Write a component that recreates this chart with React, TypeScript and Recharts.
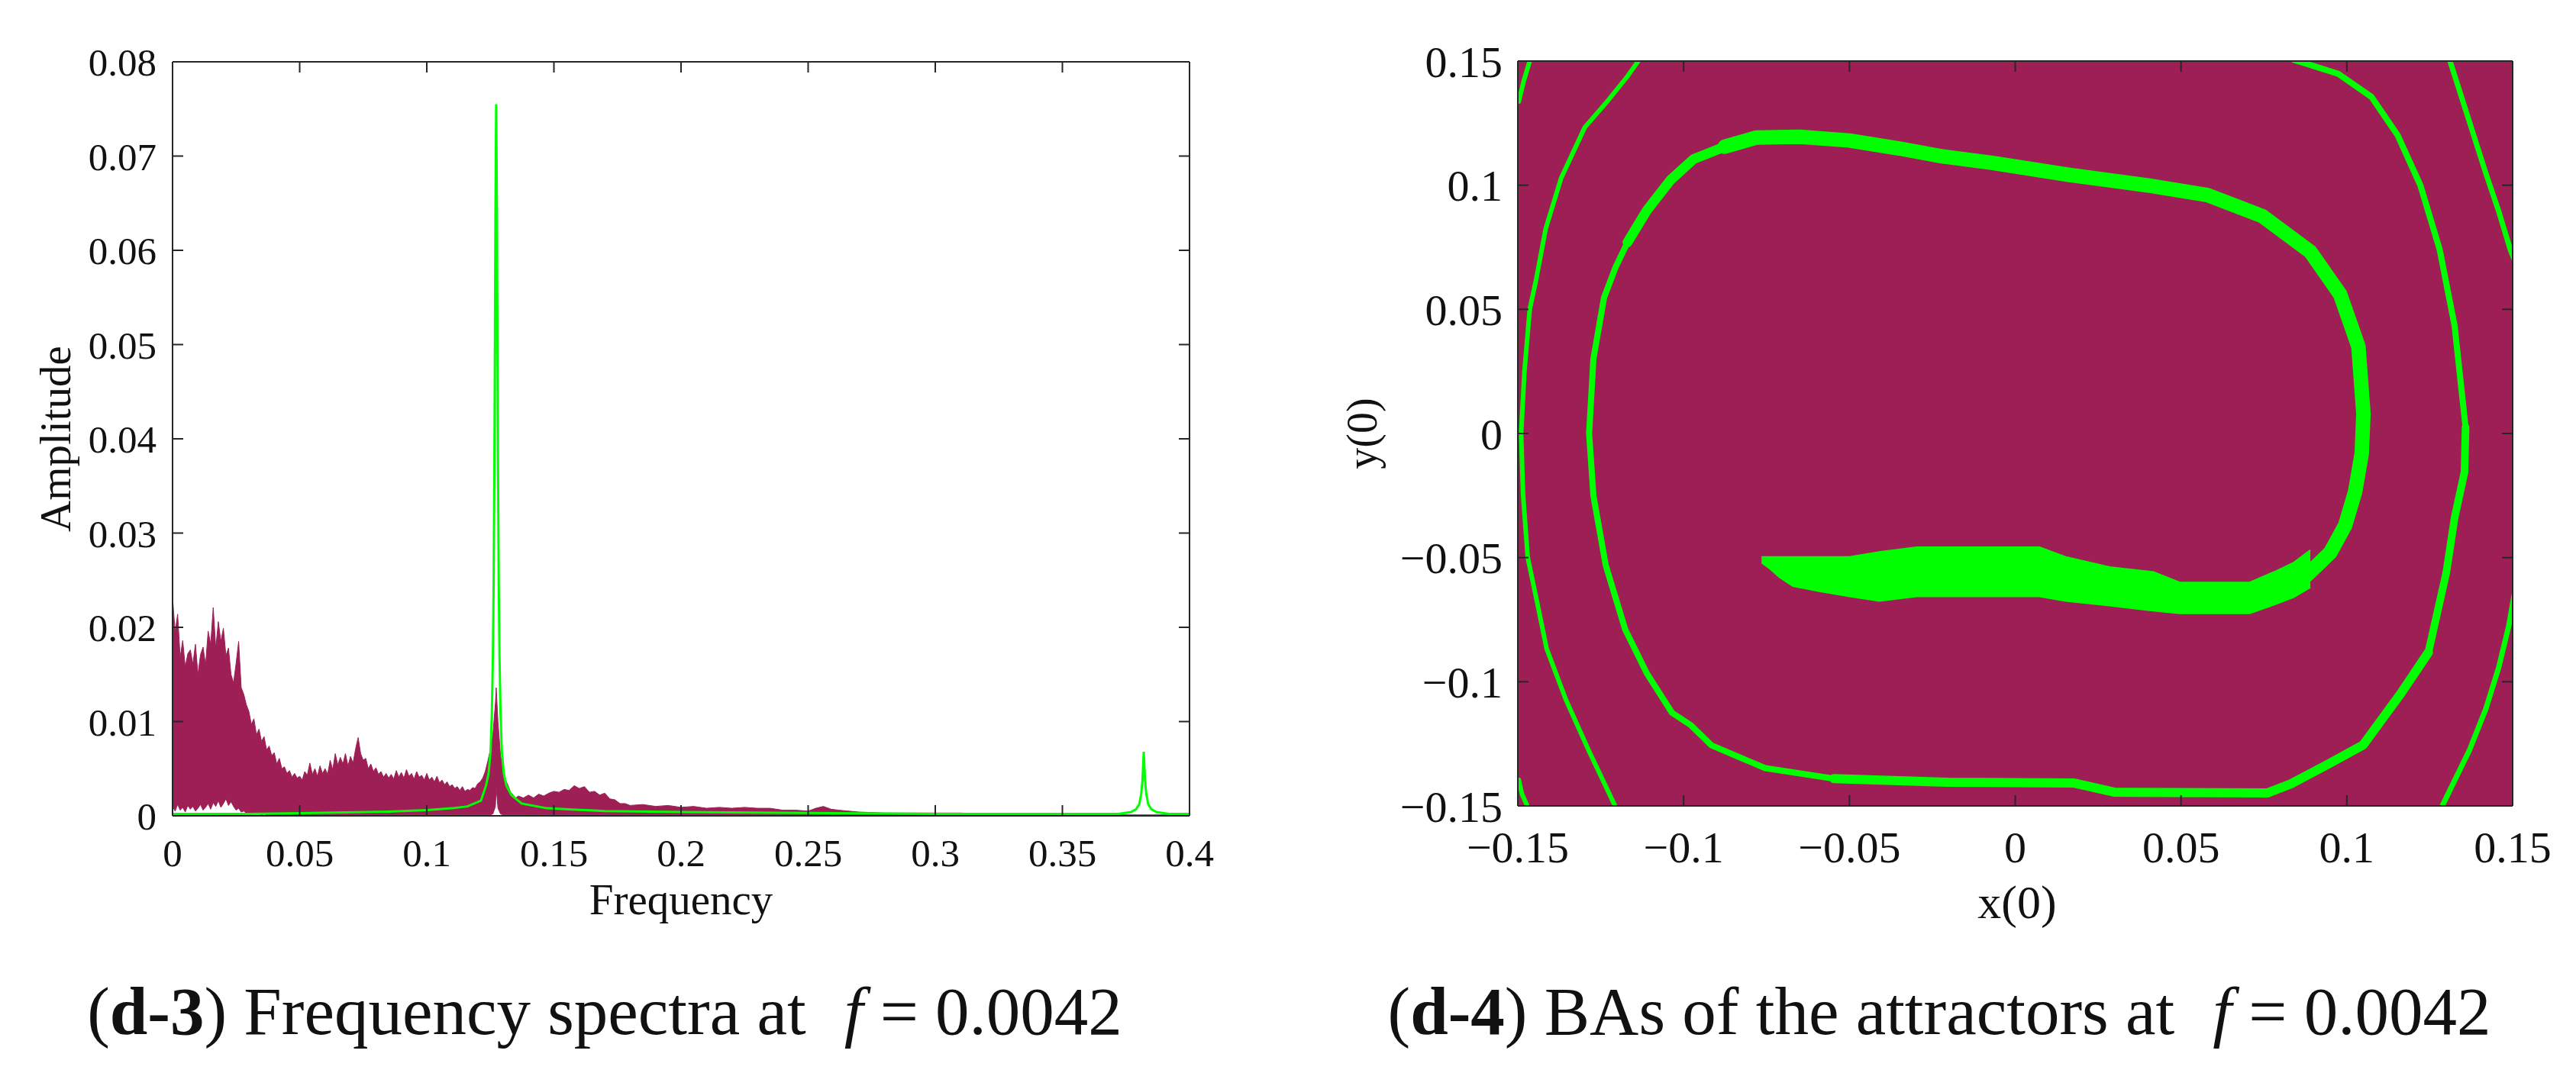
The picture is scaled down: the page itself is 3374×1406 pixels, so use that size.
import React from "react";
import { ComposedChart, Area, Line, XAxis, YAxis } from "recharts";

const FONT = '"Liberation Serif", "Times New Roman", serif';
const MAGENTA = "#9E1F55";
const GREEN = "#00FF00";
const AXIS = "#262626";

// ---------- (d-3) frequency spectra ----------
const freqTicks = [0, 0.05, 0.1, 0.15, 0.2, 0.25, 0.3, 0.35, 0.4];
const ampTicks = [0, 0.01, 0.02, 0.03, 0.04, 0.05, 0.06, 0.07, 0.08];

const specFreq = [
  0, 0.001, 0.002, 0.003, 0.004, 0.005, 0.006, 0.007, 0.008, 0.009,
  0.01, 0.011, 0.012, 0.013, 0.014, 0.015, 0.016, 0.017, 0.018, 0.019,
  0.02, 0.021, 0.022, 0.023, 0.024, 0.025, 0.026, 0.027, 0.028, 0.029,
  0.03, 0.031, 0.032, 0.033, 0.034, 0.035, 0.036, 0.037, 0.038, 0.039,
  0.04, 0.041, 0.042, 0.043, 0.044, 0.045, 0.046, 0.047, 0.048, 0.049,
  0.05, 0.051, 0.052, 0.053, 0.054, 0.055, 0.056, 0.057, 0.058, 0.059,
  0.06, 0.061, 0.062, 0.063, 0.064, 0.065, 0.066, 0.067, 0.068, 0.069,
  0.07, 0.071, 0.072, 0.073, 0.074, 0.075, 0.076, 0.077, 0.078, 0.079,
  0.08, 0.081, 0.082, 0.083, 0.084, 0.085, 0.086, 0.087, 0.088, 0.089,
  0.09, 0.091, 0.092, 0.093, 0.094, 0.095, 0.096, 0.097, 0.098, 0.099,
  0.1, 0.101, 0.102, 0.103, 0.104, 0.105, 0.106, 0.107, 0.108, 0.109,
  0.11, 0.111, 0.112, 0.113, 0.114, 0.115, 0.116, 0.117, 0.118, 0.119,
  0.12, 0.121, 0.122, 0.123, 0.124, 0.125, 0.126, 0.127, 0.1273, 0.128,
  0.129, 0.13, 0.131, 0.132, 0.133, 0.134, 0.135, 0.136, 0.138, 0.14,
  0.142, 0.144, 0.146, 0.148, 0.15, 0.152, 0.154, 0.156, 0.158, 0.16,
  0.162, 0.164, 0.166, 0.168, 0.17, 0.172, 0.174, 0.176, 0.178, 0.18,
  0.185, 0.19, 0.195, 0.2, 0.205, 0.21, 0.215, 0.22, 0.225, 0.23,
  0.235, 0.24, 0.245, 0.25, 0.253, 0.256, 0.259, 0.262, 0.27, 0.28,
  0.29, 0.3, 0.31, 0.32, 0.33, 0.34, 0.35, 0.36, 0.37, 0.38,
  0.39, 0.4,
];
const specHigh = [
  0.0232, 0.0195, 0.0214, 0.0168, 0.0186, 0.0158, 0.0172, 0.0176, 0.0161, 0.0182,
  0.015, 0.0171, 0.0179, 0.016, 0.0196, 0.0182, 0.0221, 0.0178, 0.0206, 0.0185,
  0.0199, 0.017, 0.0178, 0.015, 0.0141, 0.0162, 0.0185, 0.0136, 0.0129, 0.0118,
  0.0111, 0.0097, 0.0103, 0.0086, 0.0092, 0.0079, 0.0084, 0.007, 0.0074, 0.0064,
  0.0067, 0.0055, 0.0061, 0.005, 0.0052, 0.0045, 0.0048, 0.0041, 0.0045, 0.004,
  0.0042, 0.0038, 0.0047, 0.0043, 0.0056, 0.0044, 0.005, 0.0042, 0.0053, 0.0045,
  0.005, 0.0044, 0.0059, 0.0049, 0.0066, 0.0054, 0.0062, 0.0055, 0.0066, 0.0053,
  0.0063, 0.0056, 0.0071, 0.0083, 0.0066, 0.0059, 0.0061, 0.005, 0.0055, 0.0047,
  0.0051, 0.0044, 0.0047, 0.0041, 0.0045, 0.004, 0.0044, 0.0039, 0.0048, 0.0041,
  0.0046, 0.004, 0.0049, 0.0042, 0.0045, 0.0039, 0.0047, 0.0041, 0.0043, 0.0038,
  0.0045, 0.0038, 0.0041, 0.0036, 0.0042, 0.0035, 0.0038, 0.0033, 0.0036, 0.0031,
  0.0033, 0.0029, 0.0031, 0.0027, 0.0031, 0.0026, 0.0028, 0.0027, 0.003, 0.0029,
  0.0034, 0.0036, 0.004, 0.0047, 0.0058, 0.007, 0.0086, 0.012, 0.0136, 0.01,
  0.0064, 0.005, 0.0038, 0.0032, 0.0025, 0.0022, 0.0019, 0.0021, 0.0019, 0.0022,
  0.0019, 0.0023, 0.0021, 0.0024, 0.0026, 0.0025, 0.0028, 0.0027, 0.0032, 0.0029,
  0.0031, 0.0025, 0.0026, 0.0022, 0.0024, 0.0018, 0.0017, 0.0013, 0.0013, 0.0011,
  0.0012, 0.001, 0.0011, 0.0009, 0.001, 0.0008, 0.0009, 0.0008, 0.0009, 0.0008,
  0.0008, 0.0006, 0.0006, 0.0005, 0.0008, 0.001, 0.0007, 0.0006, 0.0004, 0.0003,
  0.0003, 0.0003, 0.0003, 0.0002, 0.0002, 0.0002, 0.0002, 0.0001, 0.0001, 0.0001,
  0.0001, 0.0001,
];
const specLow = [
  0.001, 0.0005, 0.0012, 0.0006, 0.0009, 0.0004, 0.0011, 0.0007, 0.001, 0.0005,
  0.0008, 0.0012, 0.0006, 0.0009, 0.0013, 0.0007, 0.0014, 0.001, 0.0016, 0.0009,
  0.0013, 0.0018, 0.0011, 0.0015, 0.001, 0.0006, 0.0008, 0.0004, 0.0005, 0.0003,
  0.0003, 0.0002, 0.0003, 0.0002, 0.0002, 0.0001, 0.0002, 0.0001, 0.0001, 0.0001,
  0.0001, 0.0001, 0.0001, 0.0001, 0.0001, 0.0001, 0.0001, 0.0001, 0.0001, 0.0001,
  0.0001, 0.0001, 0.0001, 0.0001, 0.0001, 0.0001, 0.0001, 0.0001, 0.0001, 0.0001,
  0.0001, 0.0001, 0.0001, 0.0001, 0.0001, 0.0001, 0.0001, 0.0001, 0.0001, 0.0001,
  0.0001, 0.0001, 0.0001, 0.0001, 0.0001, 0.0001, 0.0001, 0.0001, 0.0001, 0.0001,
  0.0001, 0.0001, 0.0001, 0.0001, 0.0001, 0.0001, 0.0001, 0.0001, 0.0001, 0.0001,
  0.0001, 0.0001, 0.0001, 0.0001, 0.0001, 0.0001, 0.0001, 0.0001, 0.0001, 0.0001,
  0.0001, 0.0001, 0.0001, 0.0001, 0.0001, 0.0001, 0.0001, 0.0001, 0.0001, 0.0001,
  0.0001, 0.0001, 0.0001, 0.0001, 0.0001, 0.0001, 0.0001, 0.0001, 0.0001, 0.0001,
  0.0001, 0.0001, 0.0001, 0.0001, 0.0001, 0.0001, 0.0002, 0.001, 0.003, 0.0008,
  0.0002, 0.0001, 0.0001, 0.0001, 0.0001, 0.0001, 0.0001, 0.0001, 0.0001, 0.0001,
  0.0001, 0.0001, 0.0001, 0.0001, 0.0001, 0.0001, 0.0001, 0.0001, 0.0001, 0.0001,
  0.0001, 0.0001, 0.0001, 0.0001, 0.0001, 0.0001, 0.0001, 0.0001, 0.0001, 0.0001,
  0.0001, 0.0001, 0.0001, 0.0001, 0.0001, 0.0001, 0.0001, 0.0001, 0.0001, 0.0001,
  0.0001, 0.0001, 0.0001, 0.0001, 0.0001, 0.0001, 0.0001, 0.0001, 0.0001, 0.0001,
  0.0001, 0.0001, 0.0001, 0.0001, 0, 0, 0, 0, 0, 0,
  0, 0,
];

const greenFreq = [
  0, 0.03, 0.055, 0.085, 0.1, 0.11, 0.116, 0.1213, 0.1233, 0.1243,
  0.1251, 0.1256, 0.126, 0.1263, 0.1266, 0.1268, 0.127, 0.1273, 0.1276, 0.1278,
  0.128, 0.1283, 0.1286, 0.129, 0.1295, 0.1303, 0.1313, 0.1333, 0.1373, 0.1473,
  0.17, 0.2, 0.25, 0.3, 0.36, 0.372, 0.377, 0.379, 0.3802, 0.381,
  0.3815, 0.382, 0.3825, 0.383, 0.3838, 0.385, 0.387, 0.392, 0.4,
];
const greenAmp = [
  0.0002, 0.0002, 0.0003, 0.00045, 0.0006, 0.0008, 0.001, 0.0016, 0.0032, 0.0045,
  0.0069, 0.011, 0.017, 0.0248, 0.0378, 0.05, 0.0638, 0.0755, 0.0638, 0.05,
  0.0378, 0.0248, 0.017, 0.011, 0.0069, 0.0045, 0.0032, 0.0022, 0.0013, 0.0008,
  0.0005, 0.0004, 0.0003, 0.0002, 0.0002, 0.0002, 0.0004, 0.0007, 0.0012, 0.0023,
  0.0038, 0.0068, 0.0038, 0.0023, 0.0012, 0.0007, 0.0004, 0.0002, 0.0002,
];

// ---------- (d-4) basins of attraction ----------
const basinTicks = [-0.15, -0.1, -0.05, 0, 0.05, 0.1, 0.15];

type Pt = [number, number];
const outerLeftArc: Pt[] = [
  [-0.1134, 0.1505], [-0.1169, 0.1439], [-0.1235, 0.133], [-0.1298, 0.1233], [-0.1369, 0.103],
  [-0.1416, 0.0824], [-0.1445, 0.0618], [-0.1464, 0.05], [-0.148, 0.025], [-0.149, 0],
  [-0.1484, -0.025], [-0.147, -0.05], [-0.144, -0.0691], [-0.1413, -0.0867], [-0.1355, -0.1072],
  [-0.1286, -0.1277], [-0.1205, -0.1505],
];
const cornerTopLeft: Pt[] = [[-0.1463, 0.1505], [-0.1482, 0.142], [-0.1497, 0.1337]];
const cornerBottomLeft: Pt[] = [[-0.1497, -0.1395], [-0.1488, -0.145], [-0.147, -0.1505]];
const outerRightTop: Pt[] = [
  [0.131, 0.1505], [0.137, 0.1254], [0.1419, 0.1049], [0.1458, 0.0895], [0.1493, 0.0741], [0.1505, 0.07],
];
const outerRightBottom: Pt[] = [
  [0.1505, -0.0647], [0.1488, -0.0777], [0.1458, -0.0943], [0.1419, -0.111], [0.137, -0.1275],
  [0.131, -0.1439], [0.1286, -0.1505],
];
const spiralRight: Pt[] = [
  [0.08, -0.062], [0.088, -0.057], [0.095, -0.048], [0.0995, -0.037], [0.1025, -0.0235],
  [0.1045, -0.008], [0.105, 0.008], [0.1035, 0.035], [0.098, 0.056], [0.089, 0.0732],
  [0.0745, 0.0876], [0.058, 0.096], [0.04, 0.0999], [0.016, 0.1042], [-0.007, 0.109],
  [-0.022, 0.1116], [-0.035, 0.1148], [-0.05, 0.118], [-0.065, 0.1195], [-0.078, 0.1192],
  [-0.0876, 0.1155],
];
const spiralTopLeft: Pt[] = [
  [-0.0876, 0.1155], [-0.097, 0.1105], [-0.104, 0.102], [-0.111, 0.09], [-0.1169, 0.077],
];
const spiralLeft: Pt[] = [
  [-0.1169, 0.077], [-0.1205, 0.067], [-0.124, 0.0547], [-0.1272, 0.03], [-0.1285, 0],
  [-0.1272, -0.025], [-0.1235, -0.053], [-0.1176, -0.079], [-0.111, -0.0968], [-0.1035, -0.1125],
  [-0.0978, -0.1175], [-0.0916, -0.1256], [-0.0754, -0.1348], [-0.0547, -0.139],
];
const spiralBottom: Pt[] = [
  [-0.0547, -0.139], [-0.02, -0.1405], [0.0178, -0.1408], [0.03, -0.1445], [0.076, -0.1448],
  [0.083, -0.1412], [0.0945, -0.1331], [0.1049, -0.1255], [0.1164, -0.1045], [0.1246, -0.0882],
];
const spiralRightLow: Pt[] = [
  [0.1246, -0.0882], [0.13, -0.056], [0.1325, -0.034], [0.1355, -0.0154], [0.1358, 0.0025],
];
const spiralExit: Pt[] = [
  [0.1358, 0.0025], [0.1325, 0.0434], [0.128, 0.0741], [0.1222, 0.0999], [0.1153, 0.1202],
  [0.1074, 0.1356], [0.0975, 0.1448], [0.0876, 0.149], [0.084, 0.1505],
];
const tailX = [-0.0765, -0.074, -0.071, -0.067, -0.0588, -0.05, -0.041, -0.0297, 0.0073, 0.0152, 0.0284, 0.0417, 0.0496, 0.0707, 0.078, 0.084, 0.089];
const tailHigh = [-0.0497, -0.0497, -0.0497, -0.0497, -0.0497, -0.0497, -0.0477, -0.0458, -0.0458, -0.0497, -0.0538, -0.0558, -0.06, -0.06, -0.0558, -0.052, -0.047];
const tailLow = [-0.052, -0.0545, -0.058, -0.0615, -0.0636, -0.0656, -0.0675, -0.0656, -0.0656, -0.0675, -0.0693, -0.0714, -0.0725, -0.0725, -0.069, -0.066, -0.062];

const spectrum = specFreq.map((f, i) => ({ f, r: [specLow[i], specHigh[i]] }));
const green = greenFreq.map((f, i) => ({ f, a: greenAmp[i] }));
const toPts = (arr: Pt[]) => arr.map(([x, y]) => ({ x, y }));
const tail = tailX.map((x, i) => ({ x, r: [tailLow[i], tailHigh[i]] }));

const basinCurves: { pts: Pt[]; w: number }[] = [
  { pts: outerLeftArc, w: 6 },
  { pts: cornerTopLeft, w: 6 },
  { pts: cornerBottomLeft, w: 6 },
  { pts: outerRightTop, w: 7 },
  { pts: outerRightBottom, w: 7 },
  { pts: spiralRight, w: 19 },
  { pts: spiralTopLeft, w: 13 },
  { pts: spiralLeft, w: 8 },
  { pts: spiralBottom, w: 12 },
  { pts: spiralRightLow, w: 10 },
  { pts: spiralExit, w: 8 },
];

const minus = (v: number) => String(v).replace("-", "\u2212");
const axisLine = { stroke: AXIS, strokeWidth: 2 };
const TICK = 14;

// tick label plus MATLAB-style inward ticks on both opposite sides of the box
function xTick(fs: number, margin: number, plotH: number, fmt?: (v: number) => string) {
  return (p: any) => {
    const axisY = p.y - margin;
    return (
      <g>
        <line x1={p.x} x2={p.x} y1={axisY} y2={axisY - TICK} stroke={AXIS} strokeWidth={2} />
        <line x1={p.x} x2={p.x} y1={axisY - plotH} y2={axisY - plotH + TICK} stroke={AXIS} strokeWidth={2} />
        <text x={p.x} y={p.y} dy="0.71em" textAnchor="middle" fontSize={fs} fontFamily={FONT} fill="#111">
          {fmt ? fmt(p.payload.value) : p.payload.value}
        </text>
      </g>
    );
  };
}
function yTick(fs: number, margin: number, plotW: number, fmt?: (v: number) => string) {
  return (p: any) => {
    const axisX = p.x + margin;
    return (
      <g>
        <line x1={axisX} x2={axisX + TICK} y1={p.y} y2={p.y} stroke={AXIS} strokeWidth={2} />
        <line x1={axisX + plotW} x2={axisX + plotW - TICK} y1={p.y} y2={p.y} stroke={AXIS} strokeWidth={2} />
        <text x={p.x} y={p.y} dy="0.355em" textAnchor="end" fontSize={fs} fontFamily={FONT} fill="#111">
          {fmt ? fmt(p.payload.value) : p.payload.value}
        </text>
      </g>
    );
  };
}

function boxAxes(xKey: string, xTicks: number[], yTicks: number[], xDom: number[], yDom: number[], o: any) {
  return [
    <XAxis key="b" xAxisId="b" type="number" dataKey={xKey} domain={xDom} ticks={xTicks} allowDataOverflow interval={0}
      tickLine={false} tickSize={0} tickMargin={o.xMargin} axisLine={axisLine} height={o.xHeight}
      tick={xTick(o.fs, o.xMargin, o.plotH, o.fmt)} />,
    <XAxis key="t" xAxisId="t" type="number" domain={xDom} ticks={xTicks} allowDataOverflow interval={0}
      mirror orientation="top" tick={false} tickLine={false} axisLine={axisLine} />,
    <YAxis key="l" yAxisId="l" type="number" domain={yDom} ticks={yTicks} allowDataOverflow interval={0}
      tickLine={false} tickSize={0} tickMargin={o.yMargin} axisLine={axisLine} width={o.yWidth}
      tick={yTick(o.fs, o.yMargin, o.plotW, o.fmt)} />,
    <YAxis key="r" yAxisId="r" type="number" domain={yDom} ticks={yTicks} allowDataOverflow interval={0}
      mirror orientation="right" tick={false} tickLine={false} axisLine={axisLine} />,
  ];
}

export default function App() {
  return (
    <div style={{ position: "absolute", left: 0, top: 0, width: 3374, height: 1406, background: "#fff" }}>
      <div style={{ position: "absolute", left: 0, top: 0 }}>
        <ComposedChart width={1600} height={1240} margin={{ top: 81, right: 42, left: 0, bottom: 0 }}>
          <Area data={spectrum} xAxisId="b" yAxisId="l" dataKey="r" type="linear" stroke={MAGENTA} strokeWidth={1}
            fill={MAGENTA} fillOpacity={1} dot={false} activeDot={false} isAnimationActive={false} />
          <Line data={green} xAxisId="b" yAxisId="l" dataKey="a" type="linear" stroke={GREEN} strokeWidth={3}
            dot={false} activeDot={false} isAnimationActive={false} />
          {boxAxes("f", freqTicks, ampTicks, [0, 0.4], [0, 0.08],
            { xMargin: 30, xHeight: 171, yMargin: 21, yWidth: 226, fs: 51, plotH: 988, plotW: 1332 })}
        </ComposedChart>
      </div>
      {/* basin-map background, sits under the transparent chart so the box ticks stay visible */}
      <div style={{ position: "absolute", left: 1988, top: 80, width: 1303, height: 976, background: MAGENTA }} />
      <div style={{ position: "absolute", left: 1700, top: 0 }}>
        <ComposedChart width={1650} height={1240} margin={{ top: 80, right: 59, left: 0, bottom: 0 }}>
          <Area data={tail} xAxisId="b" yAxisId="l" dataKey="r" type="linear" stroke={GREEN} strokeWidth={2}
            fill={GREEN} fillOpacity={1} dot={false} activeDot={false} isAnimationActive={false} />
          {basinCurves.map((c, i) => (
            <Line key={i} data={toPts(c.pts)} xAxisId="b" yAxisId="l" dataKey="y" type="linear" stroke={GREEN}
              strokeWidth={c.w} strokeLinejoin="round" strokeLinecap="round" dot={false} activeDot={false}
              isAnimationActive={false} />
          ))}
          {boxAxes("x", basinTicks, basinTicks, [-0.15, 0.15], [-0.15, 0.15],
            { xMargin: 33, xHeight: 184, yMargin: 20, yWidth: 288, fs: 58, fmt: minus, plotH: 976, plotW: 1303 })}
        </ComposedChart>
      </div>
      <svg width={3374} height={1406} style={{ position: "absolute", left: 0, top: 0, pointerEvents: "none" }}
        fontFamily={FONT} fill="#111">
        <text x={92} y={575} fontSize={57} textAnchor="middle" transform="rotate(-90 92 575)">Amplitude</text>
        <text x={892} y={1198} fontSize={57} textAnchor="middle">Frequency</text>
        <text x={1803} y={568} fontSize={56} textAnchor="middle" transform="rotate(-90 1803 568)">y(0)</text>
        <text x={2642} y={1203} fontSize={62} textAnchor="middle">x(0)</text>
        <text x={792} y={1355} fontSize={89} textAnchor="middle">
          <tspan>(</tspan><tspan fontWeight="bold">d-3</tspan><tspan>) Frequency spectra at</tspan>
          <tspan dx={50} fontStyle="italic">f</tspan><tspan> = 0.0042</tspan>
        </text>
        <text x={2540} y={1355} fontSize={89} textAnchor="middle">
          <tspan>(</tspan><tspan fontWeight="bold">d-4</tspan><tspan>) BAs of the attractors at</tspan>
          <tspan dx={50} fontStyle="italic">f</tspan><tspan> = 0.0042</tspan>
        </text>
      </svg>
    </div>
  );
}
